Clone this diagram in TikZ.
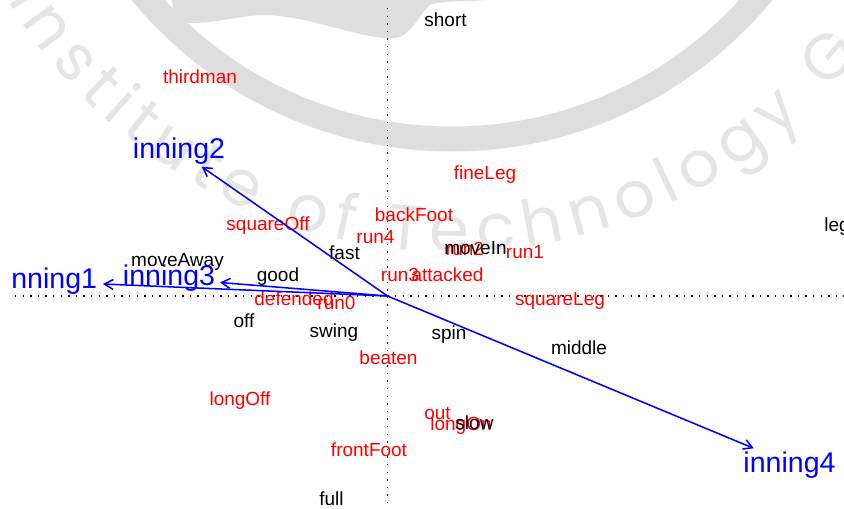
\documentclass[tikz,border=0pt]{standalone}
\usepackage{fontspec}
\setmainfont{Liberation Sans}
\newfontfamily\wmfont{Poppins}
\usetikzlibrary{arrows.meta,decorations.text}
\definecolor{wmgray}{RGB}{222,222,222}
\definecolor{wmtext}{RGB}{229,229,229}
\definecolor{rblue}{RGB}{0,0,255}
\definecolor{rred}{RGB}{255,0,0}
\tikzset{
  lab/.style={anchor=base, inner sep=0pt, font=\fontsize{14.25}{16}\selectfont},
  klab/.style={lab, text=black},
  rlab/.style={lab, text=rred},
  blab/.style={anchor=base, inner sep=0pt, font=\fontsize{21.4}{24}\selectfont, text=rblue},
  axisline/.style={draw=black, line width=1.0pt, dash pattern=on 1.0pt off 4.7pt},
  arr/.style={draw=rblue, line width=1.15pt, -{Straight Barb[length=6.5pt, width=7.5pt]}},
}
\begin{document}
\begin{tikzpicture}[x=0.75pt, y=-0.75pt]
\useasboundingbox (0,0) rectangle (844,508);
\clip (0,0) rectangle (844,508);
% watermark
\draw[wmgray, line width=18.75pt] (452,-263) circle[radius=402];
\fill[wmgray] (172,0) -- (175,22) .. controls (210,26) and (235,16) .. (262,15)
   .. controls (310,15) and (360,40) .. (395,38) .. controls (412,36) and (418,15) .. (430,5)
   .. controls (445,0) and (470,2) .. (485,0) -- cycle;
\path[decorate, decoration={text along path, text color=wmtext,
   text={|\wmfont\fontsize{48}{48}\selectfont|Institute of Technology G},
   text align={fit to path}}]
   (452,-266) ++(149:518) arc[start angle=149, end angle=38, radius=518];
\begin{scope}
\clip (13,0) rectangle (844,508);
% axes
\coordinate (O) at (387.5,296);
\coordinate (vt) at (387.5,8);
\coordinate (vb) at (387.5,504);
\coordinate (hl) at (15,296);
\coordinate (hr) at (844,296);
\draw[axisline] (vt) -- (vb);
\draw[axisline] (hl) -- (hr);
% red labels
\node[rlab] (thirdman) at (200,83.5) {thirdman};
\node[rlab] (fineLeg) at (485,179) {fineLeg};
\node[rlab] (squareOff) at (268,230) {squareOff};
\node[rlab] (backFoot) at (414,221) {backFoot};
\node[rlab] (run4) at (375.5,243.5) {run4};
\node[rlab] (run2) at (465,255) {run2};
\node[rlab] (run1) at (525,258) {run1};
\node[rlab] (run3) at (400,281) {run3};
\node[rlab] (attacked) at (447.5,281) {attacked};
\node[rlab] (squareLeg) at (560,305.5) {squareLeg};
\node[rlab] (defended) at (294,305.5) {defended};
\node[rlab] (run0) at (336.5,309.5) {run0};
\node[rlab] (beaten) at (388.5,364.5) {beaten};
\node[rlab] (longOff) at (240,405.5) {longOff};
\node[rlab] (out) at (437.5,419) {out};
\node[rlab] (longOn) at (461,430.5) {longOn};
\node[rlab] (frontFoot) at (369,456) {frontFoot};
% black labels
\node[klab] (short) at (445.5,26.5) {short};
\node[klab] (moveAway) at (177.5,266) {moveAway};
\node[klab] (fast) at (344.5,259) {fast};
\node[klab] (good) at (278,281) {good};
\node[klab] (moveIn) at (475.5,254) {moveIn};
\node[klab] (off) at (244,327.5) {off};
\node[klab] (swing) at (334,337.5) {swing};
\node[klab] (spin) at (449,339.5) {spin};
\node[klab] (middle) at (579,354) {middle};
\node[klab] (slow) at (474.5,429.5) {slow};
\node[klab] (full) at (331.5,505) {full};
\node[klab] (leg) at (837,231.5) {leg};
% arrows
\coordinate (t1) at (103,284);
\coordinate (t2) at (201.7,166.7);
\coordinate (t3) at (220,282.5);
\coordinate (t4) at (753.7,448.3);
\draw[arr] (O) -- (t1);
\draw[arr] (O) -- (t2);
\draw[arr] (O) -- (t3);
\draw[arr] (O) -- (t4);
\node[blab] (inning1) at (51,288) {inning1};
\node[blab] (inning2) at (179,158.5) {inning2};
\node[blab] (inning3) at (169,285.5) {inning3};
\node[blab] (inning4) at (789.5,472) {inning4};
\end{scope}
\end{tikzpicture}
\end{document}
